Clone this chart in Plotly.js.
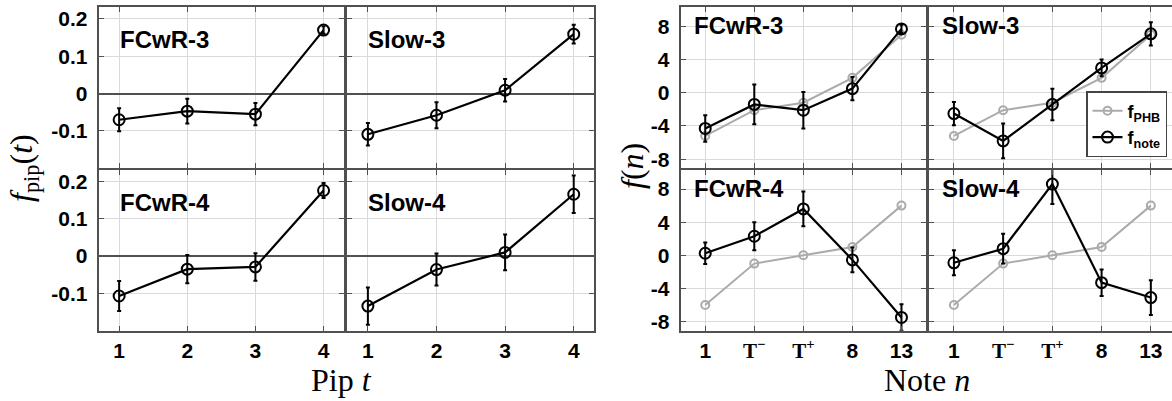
<!DOCTYPE html>
<html>
<head>
<meta charset="utf-8">
<script src="https://cdn.plot.ly/plotly-3.0.1.min.js"></script>
<style>html,body{margin:0;padding:0;background:#fff;}#chart{width:1172px;height:401px;}</style>
</head>
<body>
<div id="chart"></div>
<script>
// ---- data ----
const pips = [1, 2, 3, 4];
const pipTickText = ['1', '2', '3', '4'];
const pipYTickVals = [0.2, 0.1, 0, -0.1];
const pipYTickText = ['0.2', '0.1', '0', '-0.1'];

const notes = ['1', 'T-', 'T+', '8', '13'];
const noteTickText = ['1', '<span style="font-family:Liberation Serif">T<sup>−</sup></span>', '<span style="font-family:Liberation Serif">T<sup>+</sup></span>', '8', '13'];
const noteYTickVals = [8, 4, 0, -4, -8];
const noteYTickText = ['8', '4', '0', '-4', '-8'];

const panelLabels = ['FCwR-3', 'Slow-3', 'FCwR-4', 'Slow-4'];

// f_pip(t)
const pipFCwR3 = [-0.070, -0.047, -0.055, 0.170];
const pipFCwR3Err = [0.031, 0.033, 0.030, 0.010];
const pipSlow3 = [-0.109, -0.058, 0.009, 0.159];
const pipSlow3Err = [0.030, 0.035, 0.030, 0.025];
const pipFCwR4 = [-0.107, -0.035, -0.029, 0.176];
const pipFCwR4Err = [0.040, 0.038, 0.037, 0.020];
const pipSlow4 = [-0.134, -0.036, 0.010, 0.166];
const pipSlow4Err = [0.050, 0.043, 0.048, 0.050];

// f(n): note effect and PHB model
const noteFCwR3 = [-4.3, -1.4, -2.1, 0.5, 7.7];
const noteFCwR3Err = [1.6, 2.4, 2.2, 1.4, 0.5];
const noteSlow3 = [-2.5, -5.8, -1.4, 3.0, 7.1];
const noteSlow3Err = [1.4, 2.1, 1.9, 1.0, 1.4];
const noteFCwR4 = [0.25, 2.3, 5.6, -0.55, -7.5];
const noteFCwR4Err = [1.3, 1.7, 2.1, 1.5, 1.6];
const noteSlow4 = [-0.9, 0.8, 8.6, -3.3, -5.1];
const noteSlow4Err = [1.5, 1.8, 2.4, 1.6, 2.1];
const phb3 = [-5.2, -2.1, -1.2, 1.8, 7.0];
const phb4 = [-6, -1, 0, 1, 6];

// ---- layout geometry (pixels) ----
const W = 1172, H = 401;
const px = v => v / W, py = v => 1 - v / H;
const colDomains = [[px(98.7), px(344)], [px(347.3), px(594.3)], [px(680.7), px(926)], [px(929.3), 1]];
const rowDomains = [[py(168.3), py(7.3)], [py(330.7), py(170)]];

const SANS = 'Liberation Sans, Arial, sans-serif';
const SERIF = 'Liberation Serif, Times New Roman, serif';
const TICKFONT = {family: SANS, size: 21, color: '#000', weight: 'bold'};

const panels = [
  {kind: 'pip', col: 0, row: 0, label: panelLabels[0], y: pipFCwR3, e: pipFCwR3Err},
  {kind: 'pip', col: 1, row: 0, label: panelLabels[1], y: pipSlow3, e: pipSlow3Err},
  {kind: 'pip', col: 0, row: 1, label: panelLabels[2], y: pipFCwR4, e: pipFCwR4Err},
  {kind: 'pip', col: 1, row: 1, label: panelLabels[3], y: pipSlow4, e: pipSlow4Err},
  {kind: 'note', col: 2, row: 0, label: panelLabels[0], y: noteFCwR3, e: noteFCwR3Err, phb: phb3},
  {kind: 'note', col: 3, row: 0, label: panelLabels[1], y: noteSlow3, e: noteSlow3Err, phb: phb3, legend: true},
  {kind: 'note', col: 2, row: 1, label: panelLabels[2], y: noteFCwR4, e: noteFCwR4Err, phb: phb4},
  {kind: 'note', col: 3, row: 1, label: panelLabels[3], y: noteSlow4, e: noteSlow4Err, phb: phb4},
];

const traces = [];
const layout = {
  width: W, height: H,
  margin: {l: 0, r: 0, t: 0, b: 0},
  paper_bgcolor: '#fff', plot_bgcolor: '#fff',
  showlegend: true,
  legend: {
    x: px(1167), xanchor: 'right', y: py(91), yanchor: 'top',
    bgcolor: '#fff', bordercolor: '#444', borderwidth: 1.5,
    font: {family: SANS, size: 18, color: '#000', weight: 'bold'},
    itemwidth: 30, tracegroupgap: 0
  },
  annotations: [],
  font: {family: SANS, size: 20, color: '#000'}
};

panels.forEach((p, i) => {
  const n = i + 1;
  const xa = 'x' + n, ya = 'y' + n;
  const isPip = p.kind === 'pip';
  const x = isPip ? pips : notes;
  if (!isPip) {
    traces.push({
      x: x, y: p.phb, xaxis: xa, yaxis: ya, type: 'scatter', mode: 'lines+markers',
      name: 'f<sub>PHB</sub>', showlegend: !!p.legend,
      line: {color: '#ababab', width: 2},
      marker: {symbol: 'circle-open', size: 8, color: '#ababab', line: {width: 2, color: '#ababab'}}
    });
  }
  traces.push({
    x: x, y: p.y, xaxis: xa, yaxis: ya, type: 'scatter', mode: 'lines+markers',
    name: 'f<sub>note</sub>', showlegend: !!p.legend,
    line: {color: '#000', width: 2.2},
    marker: {symbol: 'circle-open', size: 11, color: '#000', line: {width: 2, color: '#000'}},
    error_y: {type: 'data', array: p.e, visible: true, color: '#000', thickness: 2, width: 2}
  });

  const lastCol = p.col === 3;
  const xaxis = {
    domain: colDomains[p.col], anchor: ya,
    showline: true, linecolor: '#505050', linewidth: 2, mirror: 'allticks',
    ticks: 'inside', ticklen: 5, tickwidth: 1, tickcolor: '#505050',
    showgrid: true, gridcolor: '#dadada', gridwidth: 1, zeroline: false,
    showticklabels: p.row === 1, ticklabelstandoff: 0,
    tickfont: TICKFONT, fixedrange: true
  };
  if (isPip) {
    Object.assign(xaxis, {type: 'linear', range: [0.7, 4.3], tickvals: pips, ticktext: pipTickText});
  } else {
    Object.assign(xaxis, {type: 'category', categoryorder: 'array', categoryarray: notes,
      range: lastCol ? [-0.5, 4.43] : [-0.5, 4.5], tickvals: notes, ticktext: noteTickText});
  }
  const yaxis = {
    domain: rowDomains[p.row], anchor: xa,
    showline: true, linecolor: '#505050', linewidth: 2, mirror: lastCol ? false : 'allticks',
    ticks: 'inside', ticklen: 5, tickwidth: 1, tickcolor: '#505050',
    showgrid: true, gridcolor: '#dadada', gridwidth: 1,
    showticklabels: p.col === 0 || p.col === 2, ticklabelstandoff: 5,
    tickfont: TICKFONT, fixedrange: true
  };
  if (isPip) {
    Object.assign(yaxis, {range: [-0.2, 0.231], tickvals: pipYTickVals, ticktext: pipYTickText,
      zeroline: true, zerolinecolor: '#505050', zerolinewidth: 2});
  } else {
    Object.assign(yaxis, {range: [-9.1, 10.3], tickvals: noteYTickVals, ticktext: noteYTickText, zeroline: false});
  }
  layout['xaxis' + (n === 1 ? '' : n)] = xaxis;
  layout['yaxis' + (n === 1 ? '' : n)] = yaxis;

  const labelOffsetY = isPip ? 32.5 : 18;
  const labelOffsetX = isPip ? 19 : 11;
  const leftPx = colDomains[p.col][0] * W;
  const topPx = p.row === 0 ? 7.3 : 170;
  layout.annotations.push({
    xref: 'paper', yref: 'paper', x: px(leftPx + labelOffsetX), y: py(topPx + labelOffsetY),
    xanchor: 'left', yanchor: 'middle', showarrow: false, text: p.label,
    font: {family: SANS, size: 24, color: '#000', weight: 'bold'}
  });
});

// axis titles
const TITLEFONT = {family: SERIF, size: 32, color: '#000', weight: 'normal'};
layout.annotations.push(
  {xref: 'paper', yref: 'paper', x: px(341), y: py(380), xanchor: 'center', yanchor: 'middle', showarrow: false,
   text: 'Pip <i>t</i>', font: TITLEFONT},
  {xref: 'paper', yref: 'paper', x: px(927), y: py(380), xanchor: 'center', yanchor: 'middle', showarrow: false,
   text: 'Note <i>n</i>', font: TITLEFONT},
  {xref: 'paper', yref: 'paper', x: px(23), y: py(168), xanchor: 'center', yanchor: 'middle', showarrow: false,
   textangle: -90, text: '<i>f</i><sub>pip</sub>(<i>t</i>)', font: TITLEFONT},
  {xref: 'paper', yref: 'paper', x: px(632), y: py(166), xanchor: 'center', yanchor: 'middle', showarrow: false,
   textangle: -90, text: '<i>f</i>(<i>n</i>)', font: TITLEFONT}
);

Plotly.newPlot('chart', traces, layout, {staticPlot: true, displayModeBar: false});
</script>
</body>
</html>
